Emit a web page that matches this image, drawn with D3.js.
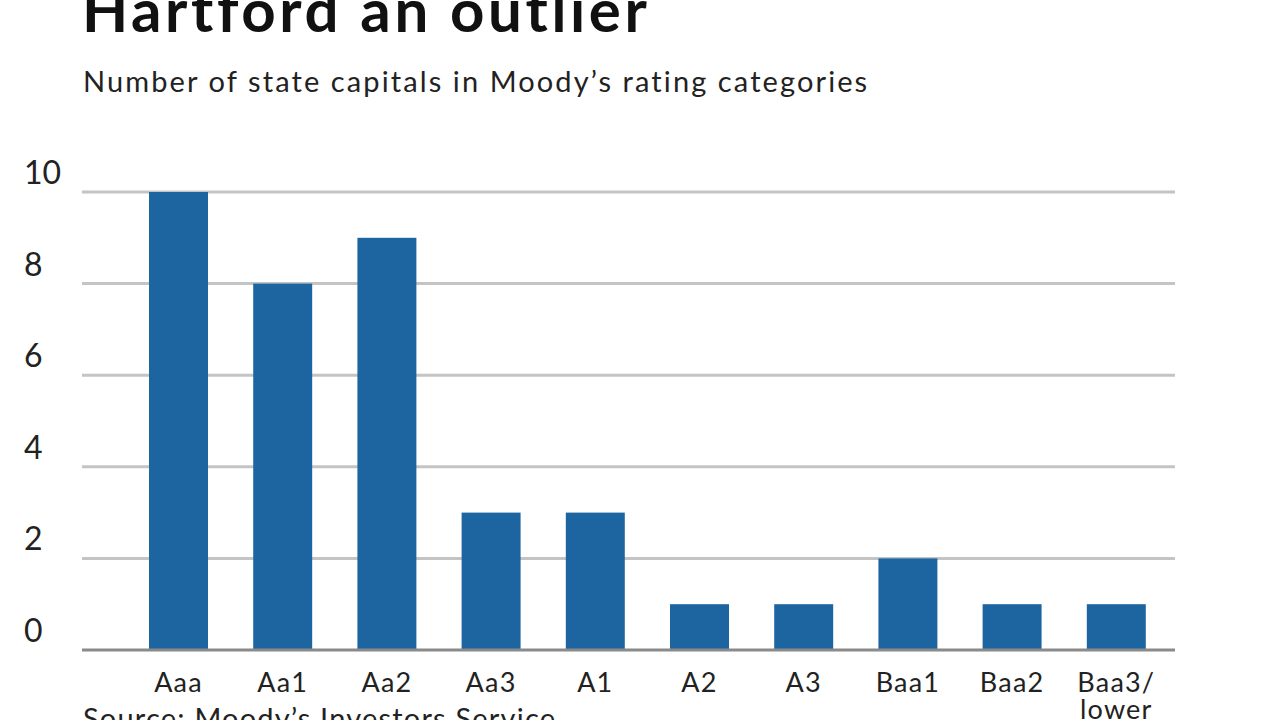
<!DOCTYPE html>
<html>
<head>
<meta charset="utf-8">
<script src="https://cdn.jsdelivr.net/npm/d3@7"></script>
<style>
  body { margin: 0; background: #fff; }
  text { font-family: Lato, "Open Sans", sans-serif; }
</style>
</head>
<body>
<div id="chart"></div>
<script>
var ratings = ["Aaa", "Aa1", "Aa2", "Aa3", "A1", "A2", "A3", "Baa1", "Baa2", "Baa3/\nlower"]
var counts = [10, 8, 9, 3, 3, 1, 1, 2, 1, 1]
var yTicks = [0, 2, 4, 6, 8, 10]

var width = 1280, height = 720

var svg = d3.select("#chart")
  .append("svg")
    .attr("width", width)
    .attr("height", height)

// title is partly cut off at the top in the original
svg.append("text")
  .attr("x", 82).attr("y", 32)
  .attr("font-size", 60).attr("font-weight", "bold")
  .attr("letter-spacing", 3.6)
  .attr("fill", "#111")
  .text("Hartford an outlier")

svg.append("text")
  .attr("x", 83).attr("y", 92)
  .attr("font-size", 29)
  .attr("letter-spacing", 2.1)
  .attr("fill", "#222")
  .text("Number of state capitals in Moody’s rating categories")

var x = d3.scaleBand()
  .domain(ratings)
  .range([126.4, 1168.4])
  .paddingInner(0.434)
  .paddingOuter(0.217)

var y = d3.scaleLinear()
  .domain([0, 10])
  .range([650, 192])

// gridlines
svg.append("g")
  .selectAll("line")
  .data(yTicks.filter(function(d){ return d > 0 }))
  .enter().append("line")
    .attr("x1", 82).attr("x2", 1175)
    .attr("y1", function(d){ return y(d) })
    .attr("y2", function(d){ return y(d) })
    .attr("stroke", "#c4c4c4")
    .attr("stroke-width", 3)

// y labels sit above their gridline
svg.append("g")
  .selectAll("text")
  .data(yTicks)
  .enter().append("text")
    .attr("x", 24)
    .attr("y", function(d){ return y(d) - 8 })
    .attr("font-size", 32)
    .attr("fill", "#222")
    .text(function(d){ return d })

svg.append("g")
  .selectAll("rect")
  .data(counts)
  .enter().append("rect")
    .attr("x", function(d, i){ return x(ratings[i]) })
    .attr("width", x.bandwidth())
    .attr("y", function(d){ return y(d) })
    .attr("height", function(d){ return y(0) - y(d) })
    .attr("fill", "#1d65a0")

// baseline
svg.append("line")
  .attr("x1", 82).attr("x2", 1175)
  .attr("y1", y(0)).attr("y2", y(0))
  .attr("stroke", "#8a8a8a")
  .attr("stroke-width", 3)

var labels = svg.append("g")
  .selectAll("text")
  .data(ratings)
  .enter().append("text")
    .attr("text-anchor", "middle")
    .attr("font-size", 27)
    .attr("letter-spacing", 1.2)
    .attr("fill", "#222")
    .attr("transform", function(d){ return "translate(" + (x(d) + x.bandwidth() / 2) + ",692)" })

labels.selectAll("tspan")
  .data(function(d){ return d.split("\n") })
  .enter().append("tspan")
    .attr("x", 0)
    .attr("dy", function(d, i){ return i ? 27 : 0 })
    .text(function(d){ return d })

svg.append("text")
  .attr("x", 83).attr("y", 729)
  .attr("font-size", 29)
  .attr("letter-spacing", 1.2)
  .attr("fill", "#222")
  .text("Source: Moody’s Investors Service")
</script>
</body>
</html>
